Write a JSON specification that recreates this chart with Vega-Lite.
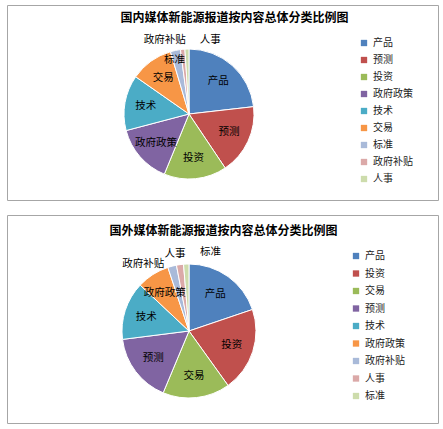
{
  "$schema": "https://vega.github.io/schema/vega-lite/v6.json",
  "description": "Two pie charts: domestic and foreign media new-energy reports by content category.",
  "background": "white",
  "padding": {"left": 6, "top": 4, "right": 6, "bottom": 7},
  "bounds": "flush",
  "spacing": 15,
  "config": {
    "font": "Noto Sans CJK SC",
    "view": {"stroke": "#a6a6a6", "strokeWidth": 1},
    "title": {"font": "Noto Sans CJK SC", "fontSize": 12, "fontWeight": "bold", "color": "#000"},
    "legend": {
      "title": null,
      "symbolType": "square",
      "symbolSize": 40,
      "symbolStrokeWidth": 0,
      "labelFont": "Noto Sans CJK SC",
      "labelFontSize": 10,
      "labelColor": "#222",
      "labelOffset": 4,
      "rowPadding": 7
    },
    "text": {"font": "Noto Sans CJK SC", "fontSize": 10.5, "color": "#000", "baseline": "middle"}
  },
  "datasets": {
    "domestic": [
      {"idx": 1, "cat": "产品", "share": 23.2},
      {"idx": 2, "cat": "预测", "share": 17.4},
      {"idx": 3, "cat": "投资", "share": 15.6},
      {"idx": 4, "cat": "政府政策", "share": 14.7},
      {"idx": 5, "cat": "技术", "share": 13.8},
      {"idx": 6, "cat": "交易", "share": 10.7},
      {"idx": 7, "cat": "标准", "share": 2.5},
      {"idx": 8, "cat": "政府补贴", "share": 1.1},
      {"idx": 9, "cat": "人事", "share": 1.0}
    ],
    "foreign": [
      {"idx": 1, "cat": "产品", "share": 19.8},
      {"idx": 2, "cat": "投资", "share": 20.3},
      {"idx": 3, "cat": "交易", "share": 16.2},
      {"idx": 4, "cat": "预测", "share": 16.7},
      {"idx": 5, "cat": "技术", "share": 14.0},
      {"idx": 6, "cat": "政府政策", "share": 7.9},
      {"idx": 7, "cat": "政府补贴", "share": 2.1},
      {"idx": 8, "cat": "人事", "share": 1.7},
      {"idx": 9, "cat": "标准", "share": 1.3}
    ]
  },
  "vconcat": [
    {
      "width": 431,
      "height": 195,
      "view": {"stroke": "#a6a6a6", "strokeWidth": 1},
      "title": {"text": "国内媒体新能源报道按内容总体分类比例图", "offset": -20, "dx": 12},
      "data": {"name": "domestic"},
      "encoding": {
        "theta": {"field": "share", "type": "quantitative", "stack": true},
        "order": {"field": "idx", "type": "quantitative"}
      },
      "layer": [
        {
          "mark": {"type": "arc", "outerRadius": 65, "x": 182, "y": 109, "stroke": "white", "strokeWidth": 1},
          "encoding": {
            "color": {
              "field": "cat",
              "type": "nominal",
              "scale": {
                "domain": ["产品", "预测", "投资", "政府政策", "技术", "交易", "标准", "政府补贴", "人事"],
                "range": ["#4f81bd", "#c0504d", "#9bbb59", "#8064a2", "#4bacc6", "#f79646", "#a9bad9", "#dba9a8", "#cddcac"]
              },
              "legend": {"orient": "none", "legendX": 352, "legendY": 33}
            }
          }
        },
        {
          "mark": {"type": "text", "radius": 44, "x": 182, "y": 109},
          "encoding": {"text": {"condition": {"test": "datum.idx <= 6", "field": "cat"}, "value": ""}}
        },
        {
          "mark": {"type": "text", "radius": 55, "x": 182, "y": 109, "dx": -3},
          "encoding": {"text": {"condition": {"test": "datum.idx == 7", "field": "cat"}, "value": ""}}
        },
        {
          "mark": {"type": "text", "radius": 74, "x": 182, "y": 109, "align": "right", "dx": 4},
          "encoding": {"text": {"condition": {"test": "datum.idx == 8", "field": "cat"}, "value": ""}}
        },
        {
          "mark": {"type": "text", "radius": 74, "x": 182, "y": 109, "align": "left", "dx": 13},
          "encoding": {"text": {"condition": {"test": "datum.idx == 9", "field": "cat"}, "value": ""}}
        }
      ]
    },
    {
      "width": 431,
      "height": 208,
      "view": {"stroke": "#a6a6a6", "strokeWidth": 1},
      "title": {"text": "国外媒体新能源报道按内容总体分类比例图", "offset": -23, "dx": 1},
      "data": {"name": "foreign"},
      "encoding": {
        "theta": {"field": "share", "type": "quantitative", "stack": true},
        "order": {"field": "idx", "type": "quantitative"}
      },
      "layer": [
        {
          "mark": {"type": "arc", "outerRadius": 67, "x": 182, "y": 116, "stroke": "white", "strokeWidth": 1},
          "encoding": {
            "color": {
              "field": "cat",
              "type": "nominal",
              "scale": {
                "domain": ["产品", "投资", "交易", "预测", "技术", "政府政策", "政府补贴", "人事", "标准"],
                "range": ["#4f81bd", "#c0504d", "#9bbb59", "#8064a2", "#4bacc6", "#f79646", "#a9bad9", "#dba9a8", "#cddcac"]
              },
              "legend": {"orient": "none", "legendX": 344, "legendY": 36, "rowPadding": 7.5}
            }
          }
        },
        {
          "mark": {"type": "text", "radius": 45, "x": 182, "y": 116},
          "encoding": {"text": {"condition": {"test": "datum.idx <= 6", "field": "cat"}, "value": ""}}
        },
        {
          "mark": {"type": "text", "radius": 74, "x": 182, "y": 116, "align": "right", "dx": -6, "dy": 5},
          "encoding": {"text": {"condition": {"test": "datum.idx == 7", "field": "cat"}, "value": ""}}
        },
        {
          "mark": {"type": "text", "radius": 74, "x": 182, "y": 116, "align": "center", "dx": -4, "dy": -4},
          "encoding": {"text": {"condition": {"test": "datum.idx == 8", "field": "cat"}, "value": ""}}
        },
        {
          "mark": {"type": "text", "radius": 74, "x": 182, "y": 116, "align": "left", "dx": 14, "dy": -5},
          "encoding": {"text": {"condition": {"test": "datum.idx == 9", "field": "cat"}, "value": ""}}
        }
      ]
    }
  ],
  "resolve": {"scale": {"color": "independent"}, "legend": {"color": "independent"}}
}
